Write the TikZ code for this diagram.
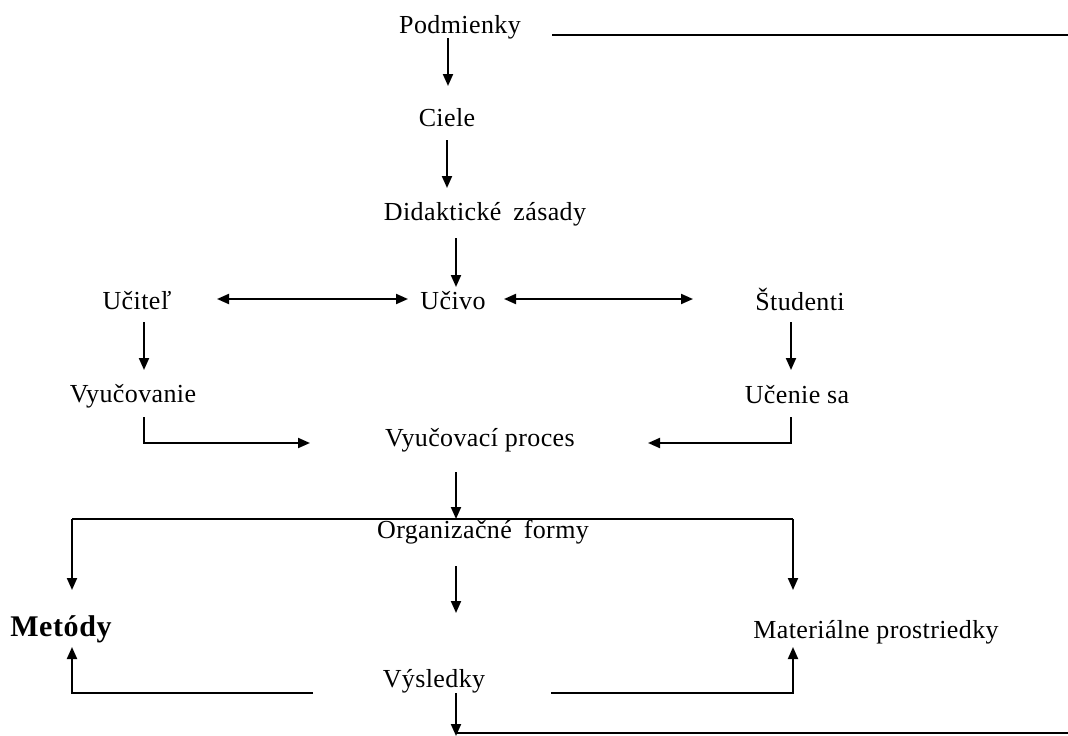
\documentclass[tikz,border=0pt]{standalone}
\usepackage{fontspec}
\setmainfont[LetterSpace=1.5]{Liberation Serif}
\newfontfamily\boldface[LetterSpace=2]{Liberation Serif}
\usetikzlibrary{arrows.meta}
\begin{document}
\begin{tikzpicture}[x=1pt,y=-1pt,
  lbl/.style={font=\fontsize{26}{30}\selectfont, inner sep=0pt},
  big/.style={font=\boldface\bfseries\fontsize{30}{34}\selectfont, inner sep=0pt},
  tip/.tip={Triangle[length=12pt,width=10pt]},
  arr/.style={line width=2pt,-tip},
  darr/.style={line width=2pt,tip-tip},
  ln/.style={line width=2pt}]
\useasboundingbox (0,0) rectangle (1068,736);
% nodes
\node[lbl] (podm) at (460,27) {Podmienky};
\node[lbl] (ciele) at (447,118) {Ciele};
\node[lbl] (did) at (485,214) {Didaktické\hspace{5pt} zásady};
\node[lbl] (uciv) at (453,301) {Učivo};
\node[lbl] (ucit) at (137,301) {Učiteľ};
\node[lbl] (stud) at (800,299) {Študenti};
\node[lbl] (vyuc) at (133,396) {Vyučovanie};
\node[lbl] (ucen) at (797,395) {Učenie sa};
\node[lbl] (proc) at (480,440) {Vyučovací proces};
\node[lbl] (org) at (483,532) {Organizačné\hspace{5pt} formy};
\node[big] (met) at (61,629) {Metódy};
\node[lbl] (mat) at (876,632) {Materiálne prostriedky};
\node[lbl] (vys) at (434,681) {Výsledky};
% connector ends
\coordinate (p1) at (448,38);   \coordinate (c1) at (448,86);
\coordinate (pl1) at (552,35);  \coordinate (pl2) at (1068,35);
\coordinate (c2) at (447,140);  \coordinate (d1) at (447,188);
\coordinate (d2) at (456,238);  \coordinate (u1) at (456,287);
\coordinate (ul) at (217,299);  \coordinate (ur) at (408,299);
\coordinate (sl) at (504,299);  \coordinate (sr) at (693,299);
\coordinate (t1) at (144,322);  \coordinate (t2) at (144,370);
\coordinate (s1) at (791,322);  \coordinate (s2) at (791,370);
\coordinate (v1) at (144,417);  \coordinate (v2) at (310,443);
\coordinate (e1) at (791,417);  \coordinate (e2) at (648,443);
\coordinate (r1) at (456,472);  \coordinate (r2) at (456,519);
\coordinate (hl) at (72,519);   \coordinate (hr) at (793,519);
\coordinate (ml) at (72,590);   \coordinate (mr) at (793,590);
\coordinate (o1) at (456,566);  \coordinate (o2) at (456,613);
\coordinate (yl) at (313,693);  \coordinate (ml2) at (72,647);
\coordinate (yr) at (551,693);  \coordinate (mr2) at (793,647);
\coordinate (b1) at (456,693);  \coordinate (b2) at (456,736);
\coordinate (bl) at (456,733);  \coordinate (br) at (1068,733);
% connectors
\draw[arr] (p1) -- (c1);
\draw[ln] (pl1) -- (pl2);
\draw[arr] (c2) -- (d1);
\draw[arr] (d2) -- (u1);
\draw[darr] (ul) -- (ur);
\draw[darr] (sl) -- (sr);
\draw[arr] (t1) -- (t2);
\draw[arr] (s1) -- (s2);
\draw[arr] (v1) |- (v2);
\draw[arr] (e1) |- (e2);
\draw[arr] (r1) -- (r2);
\draw[ln] (hl) -- (hr);
\draw[arr] (hl) -- (ml);
\draw[arr] (hr) -- (mr);
\draw[arr] (o1) -- (o2);
\draw[arr] (yl) -| (ml2);
\draw[arr] (yr) -| (mr2);
\draw[arr] (b1) -- (b2);
\draw[ln] (bl) -- (br);
\end{tikzpicture}
\end{document}
